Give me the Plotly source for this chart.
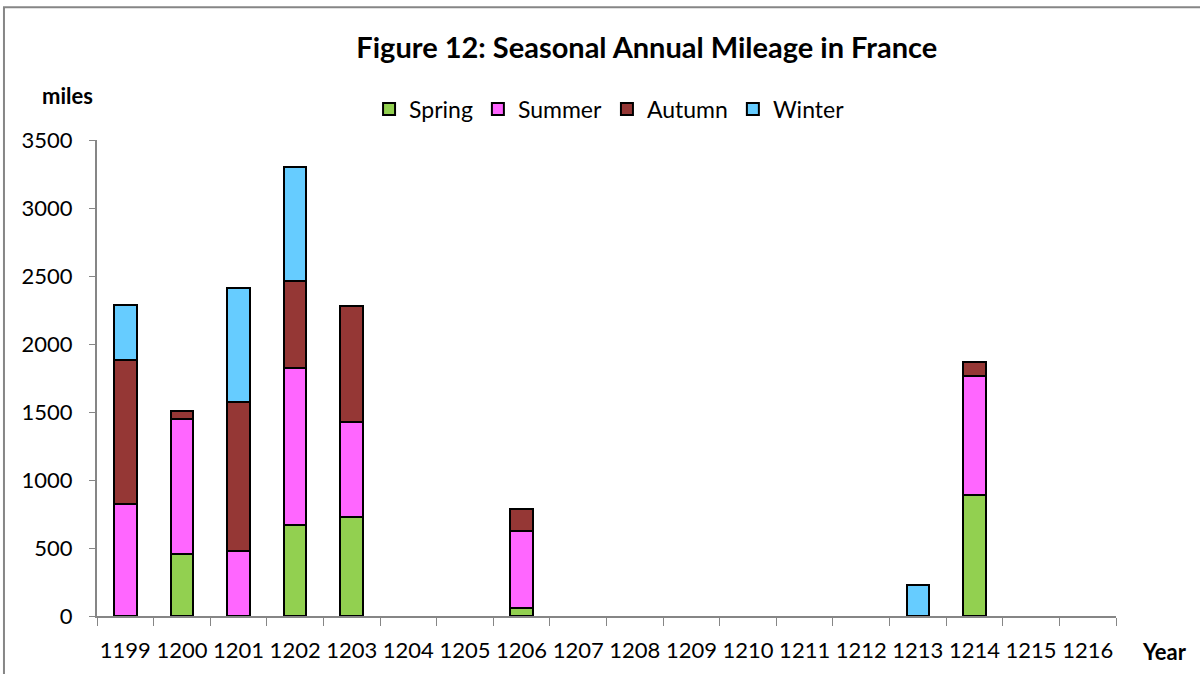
import plotly.graph_objects as go

# years on the category axis
years = [str(y) for y in range(1199, 1217)]

# miles per season, one value per year (None = no travel)
spring = [None, 455, None, 672, 726, None, None, 60, None, None, None, None, None, None, None, 888, None, None]
summer = [820, 990, 478, 1152, 698, None, None, 568, None, None, None, None, None, None, None, 874, None, None]
autumn = [1065, 61, 1093, 639, 856, None, None, 159, None, None, None, None, None, None, None, 106, None, None]
winter = [405, None, 841, 838, None, None, None, None, None, None, None, None, None, None, 226, None, None, None]

series = [
    ("Spring", spring, "#92D050"),
    ("Summer", summer, "#FF66FF"),
    ("Autumn", autumn, "#953735"),
    ("Winter", winter, "#66CCFF"),
]

FONT = "Lato"

fig = go.Figure()
for name, vals, col in series:
    fig.add_trace(go.Bar(
        x=years, y=vals, name=name,
        marker=dict(color=col, line=dict(color="black", width=2)),
    ))

fig.update_layout(
    barmode="stack",
    bargap=0.6,
    width=1200, height=674,
    paper_bgcolor="white", plot_bgcolor="white",
    margin=dict(l=97, r=84, t=140, b=58),
    font=dict(family=FONT, size=22, color="black"),
    title=dict(text="<b>Figure 12: Seasonal Annual Mileage in France</b>",
               x=0.539, xanchor="center", y=0.929, yanchor="middle",
               font=dict(size=29, family=FONT)),
    legend=dict(orientation="h", x=0.503, xanchor="center", y=1.065,
                yanchor="middle", font=dict(size=23), traceorder="normal",
                itemwidth=30, tracegroupgap=0, bgcolor="rgba(0,0,0,0)"),
    showlegend=True,
)

fig.update_xaxes(
    type="category", showgrid=False, showline=True, linecolor="#868686",
    linewidth=2, ticks="outside", ticklen=8, tickcolor="#868686",
    tickson="boundaries", ticklabelstandoff=14, tickfont=dict(size=22),
    tickangle=0, automargin=False,
)
fig.update_yaxes(
    range=[0, 3500], dtick=500, showgrid=False, showline=True,
    linecolor="#868686", linewidth=2, ticks="outside", ticklen=6,
    tickcolor="#868686", ticklabelstandoff=12, tickfont=dict(size=22),
    zeroline=False, automargin=False,
)

fig.add_annotation(text="<b>miles</b>", xref="paper", yref="paper",
                   x=-0.029, y=1.0945, xanchor="center", yanchor="middle",
                   showarrow=False, font=dict(size=22))
fig.add_annotation(text="<b>Year</b>", xref="paper", yref="paper",
                   x=1.048, y=-0.0756, xanchor="center", yanchor="middle",
                   showarrow=False, font=dict(size=22))

# outer chart border
fig.add_shape(type="rect", xref="paper", yref="paper",
              x0=-0.0913, x1=1.2, y0=-0.25, y1=1.279,
              line=dict(color="#868686", width=2))

# drop the default page margin so the figure sits at the window's corner
fig.write_html("out.html", config={"displayModeBar": False},
               post_script="document.body.style.margin='0';")
